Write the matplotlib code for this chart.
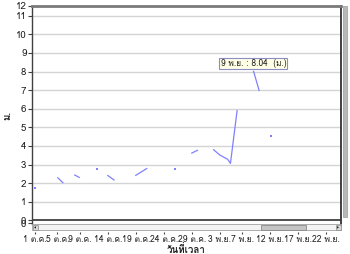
import matplotlib
matplotlib.use("Agg")
import matplotlib.pyplot as plt
import numpy as np
from matplotlib.patches import Rectangle, Polygon
import warnings
warnings.filterwarnings("ignore")

plt.rcParams['font.family'] = ['Tahoma', 'Loma', 'Garuda', 'IBM Plex Sans Thai', 'DejaVu Sans']

# days since 1 Oct; NaN separates gaps in the record
days = [4.0, 5.05, np.nan, 7.0, 8.0, np.nan, 12.9, 14.2, np.nan, 17.9, 20.05, np.nan,
        27.9, 29.1, np.nan, 31.8, 33.0, 34.4, 34.9, 36.1, np.nan, 39.0, 40.05]
levels = [2.31, 2.00, np.nan, 2.45, 2.29, np.nan, 2.43, 2.15, np.nan, 2.40, 2.80, np.nan,
          3.60, 3.78, np.nan, 3.82, 3.51, 3.28, 3.06, 5.93, np.nan, 8.04, 6.95]
# isolated single readings
single_days = [0.0, 11.07, 25.0, 42.1]
single_levels = [1.76, 2.76, 2.74, 4.53]

tick_days = [0, 4, 8, 13, 18, 23, 28, 33, 37, 42, 47, 52]
tick_labels = ["1 ต.ค.", "5 ต.ค.", "9 ต.ค.", "14 ต.ค.", "19 ต.ค.", "24 ต.ค.",
               "29 ต.ค.", "3 พ.ย.", "7 พ.ย.", "12 พ.ย.", "17 พ.ย.", "22 พ.ย."]
y_ticks = [0, 1, 2, 3, 4, 5, 6, 7, 8, 9, 10, 11]
peak_day = 39.0
peak_value = 8.04
peak_text = "9 พ.ย. : 8.04  (ม.)"

W, H = 350, 254
fig = plt.figure(figsize=(W / 100, H / 100), dpi=100)

def fx(px):
    return px / W

def fy(py):
    return 1 - py / H

ax_l, ax_r, ax_t, ax_b = 32, 341, 5.5, 224.3
ax = fig.add_axes([fx(ax_l), fy(ax_b), fx(ax_r - ax_l), (ax_b - ax_t) / H])
ax.set_xlim(-0.536, 54.64)
ax.set_ylim(-0.215, 11.55)

line_col = '#8080ff'
ax.plot(days, levels, color=line_col, lw=0.9, solid_capstyle='butt')
ax.plot(single_days, single_levels, ls='none', marker='s', ms=1.5, mew=0, mfc=line_col)

# grid
for v in y_ticks[1:]:
    ax.axhline(v, color='#d4d4d4', lw=1.0, zorder=0)
ax.axhline(0, color='#303030', lw=1.2, zorder=1)

# y axis
ax.set_yticks(y_ticks + [11.55, -0.17])
ax.set_yticklabels([str(v) for v in y_ticks] + ['12', '0'])
ax.tick_params(axis='y', direction='out', length=3, width=0.8, color='#404040',
               labelsize=7, pad=1, labelcolor='#202020')

# x axis (drawn below the scroll bar)
ax.set_xticks(tick_days)
ax.set_xticklabels(tick_labels)
ax.spines['bottom'].set_position(('outward', 5.6))
ax.spines['bottom'].set_visible(False)
ax.tick_params(axis='x', direction='out', length=1.6, width=0.8, color='#404040',
               labelsize=6.2, pad=0.6, labelcolor='#202020')

ax.spines['left'].set_color('#404040')
ax.spines['left'].set_linewidth(1.0)
ax.spines['top'].set_color('#7a7a7a')
ax.spines['top'].set_linewidth(2.0)
ax.spines['right'].set_color('#404040')
ax.spines['right'].set_linewidth(1.4)

# peak annotation
ax.annotate(peak_text, xy=(peak_day, peak_value), xytext=(0, 5.2), textcoords='offset points',
            ha='center', va='center', fontsize=6, color='#202020',
            bbox=dict(boxstyle='square,pad=0.15', fc='#ffffe6', ec='#8c8cc8', lw=0.8))

# labels
fig.text(fx(7.5), fy(115), "ม.", rotation=90, ha='center', va='center',
         fontsize=7, fontweight='bold', color='#202020')
fig.text(fx(186), fy(249.5), "วันที่เวลา", ha='center', va='center',
         fontsize=7, fontweight='bold', color='#202020')

# horizontal scroll bar
def frect(x0, y0, x1, y1, **kw):
    fig.patches.append(Rectangle((fx(x0), fy(y1)), fx(x1 - x0), (y1 - y0) / H,
                                 transform=fig.transFigure, figure=fig, **kw))

frect(32, 224.3, 341, 230, fc='#f4f4f4', ec='#a0a0a0', lw=0.6)
frect(261, 225.3, 306, 229.5, fc='#c4c4c4', ec='#8a8a8a', lw=0.6)
frect(32.5, 225.3, 37.5, 229.5, fc='#d8d8d8', ec='#8a8a8a', lw=0.5)
frect(335.5, 225.3, 340.5, 229.5, fc='#d8d8d8', ec='#8a8a8a', lw=0.5)
fig.patches.append(Polygon([(fx(34), fy(227.4)), (fx(36), fy(226.2)), (fx(36), fy(228.6))],
                           closed=True, transform=fig.transFigure, fc='#202020', ec='none'))
fig.patches.append(Polygon([(fx(339), fy(227.4)), (fx(337), fy(226.2)), (fx(337), fy(228.6))],
                           closed=True, transform=fig.transFigure, fc='#202020', ec='none'))

# vertical shadow bar on the right
frect(343.3, 6, 347, 217, fc='#b8b8b8', ec='#9a9a9a', lw=0.5)

fig.savefig("out.png", dpi=100)
